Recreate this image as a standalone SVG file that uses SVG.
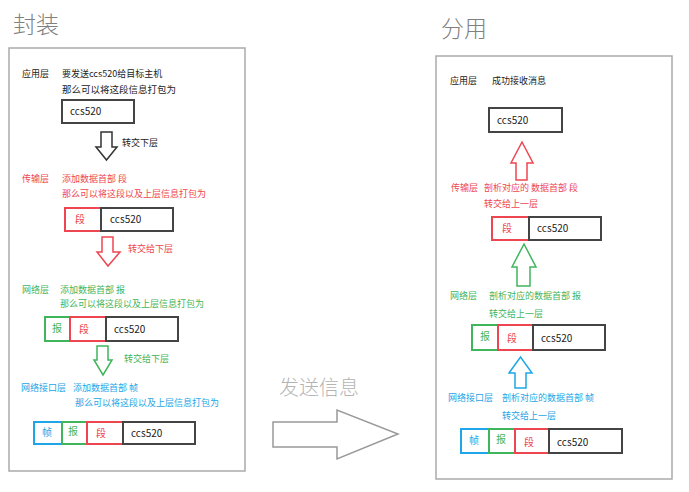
<svg xmlns="http://www.w3.org/2000/svg" width="689" height="492" viewBox="0 0 689 492">
<style>
text{font-family:"Noto Sans CJK SC","Noto Sans",sans-serif;font-size:9px}
.title{font-size:23px;fill:#808080;font-weight:300}
.panel{fill:#fff;stroke:#aaa;stroke-width:1.5}
.k{fill:#222}.r{fill:#ee4650}.g{fill:#3fb55c}.b{fill:#1ea6e6}
.bx{fill:#fff;stroke-width:2}
.bk{stroke:#444}.br{stroke:#ee4650}.bg{stroke:#3fb55c}.bb{stroke:#1ea6e6}
.in{font-size:10px}
.arr{fill:#fff;stroke-width:1.5}
</style>
<rect width="689" height="492" fill="#fff"/>
<g id="left-panel">
<text class="title" x="13" y="33">封装</text>
<rect class="panel" x="9" y="48" width="236" height="423"/>
</g>
<g id="right-panel">
<text class="title" x="441" y="37">分用</text>
<rect class="panel" x="436" y="56" width="236" height="423"/>
</g>
<g id="send-label">
<text x="279" y="395" style="font-size:20px;fill:#b4b4b4;font-weight:300">发送信息</text>
</g>
<g id="l-app">
<text class="k" x="22" y="77">应用层</text>
<text class="k" x="62" y="77">要发送ccs520给目标主机</text>
<text class="k" x="62" y="93" style="font-size:9.5px">那么可以将这段信息打包为</text>
<rect class="bx bk" x="62" y="100" width="72" height="23"/>
<text class="k in" x="70" y="115">ccs520</text>
</g>
<g id="l-trans">
<text class="r" x="22" y="182">传输层</text>
<text class="r" x="62" y="182">添加数据首部 段</text>
<text class="r" x="62" y="197">那么可以将这段以及上层信息打包为</text>
<rect class="bx br" x="65" y="208" width="36" height="23"/>
<rect class="bx bk" x="101" y="208" width="72" height="23"/>
<text class="r in" x="75" y="223">段</text>
<text class="k in" x="110" y="223">ccs520</text>
</g>
<g id="l-net">
<text class="g" x="22" y="293">网络层</text>
<text class="g" x="60" y="293">添加数据首部 报</text>
<text class="g" x="60" y="307">那么可以将这段以及上层信息打包为</text>
<rect class="bx bg" x="45" y="317" width="25" height="24"/>
<rect class="bx br" x="70" y="317" width="36" height="24"/>
<rect class="bx bk" x="106" y="317" width="72" height="24"/>
<text class="g in" x="52" y="332">报</text>
<text class="r in" x="79" y="333">段</text>
<text class="k in" x="114" y="333">ccs520</text>
</g>
<g id="l-link">
<text class="b" x="21" y="391">网络接口层</text>
<text class="b" x="73" y="391">添加数据首部 帧</text>
<text class="b" x="75" y="406">那么可以将这段以及上层信息打包为</text>
<rect class="bx bb" x="34" y="422" width="28" height="22"/>
<rect class="bx bg" x="62" y="422" width="25" height="22"/>
<rect class="bx br" x="87" y="422" width="36" height="22"/>
<rect class="bx bk" x="123" y="422" width="72" height="22"/>
<text class="b in" x="42" y="436">帧</text>
<text class="g in" x="68" y="435">报</text>
<text class="r in" x="96" y="437">段</text>
<text class="k in" x="131" y="437">ccs520</text>
</g>
<g id="r-app">
<text class="k" x="450" y="84">应用层</text>
<text class="k" x="492" y="84">成功接收消息</text>
<rect class="bx bk" x="489" y="108" width="73" height="24"/>
<text class="k in" x="497" y="124">ccs520</text>
</g>
<g id="r-trans">
<text class="r" x="451" y="191">传输层</text>
<text class="r" x="484" y="191">剖析对应的 数据首部 段</text>
<text class="r" x="484" y="207">转交给上一层</text>
<rect class="bx br" x="492" y="217" width="37" height="23"/>
<rect class="bx bk" x="529" y="217" width="72" height="23"/>
<text class="r in" x="502" y="232">段</text>
<text class="k in" x="537" y="232">ccs520</text>
</g>
<g id="r-net">
<text class="g" x="450" y="299">网络层</text>
<text class="g" x="489" y="299">剖析对应的数据首部 报</text>
<text class="g" x="489" y="317">转交给上一层</text>
<rect class="bx bg" x="472" y="325" width="26" height="25"/>
<rect class="bx br" x="498" y="325" width="35" height="25"/>
<rect class="bx bk" x="533" y="325" width="72" height="25"/>
<text class="g in" x="480" y="340">报</text>
<text class="r in" x="507" y="342">段</text>
<text class="k in" x="541" y="342">ccs520</text>
</g>
<g id="r-link">
<text class="b" x="448" y="401">网络接口层</text>
<text class="b" x="502" y="401">剖析对应的数据首部 帧</text>
<text class="b" x="502" y="419">转交给上一层</text>
<rect class="bx bb" x="461" y="429" width="28" height="24"/>
<rect class="bx bg" x="489" y="429" width="26" height="24"/>
<rect class="bx br" x="515" y="429" width="34" height="24"/>
<rect class="bx bk" x="549" y="429" width="73" height="24"/>
<text class="b in" x="469" y="444">帧</text>
<text class="g in" x="496" y="443">报</text>
<text class="r in" x="524" y="446">段</text>
<text class="k in" x="557" y="446">ccs520</text>
</g>
<g id="connectors">
<polygon class="arr" stroke="#333" points="101,132 112,132 112,147 117,147 106.5,160 96,147 101,147"/>
<text class="k" x="122" y="146">转交下层</text>
<polygon class="arr" stroke="#ee4650" points="102,237 113,237 113,252 120,252 108,266 97,252 102,252"/>
<text class="r" x="128" y="252">转交给下层</text>
<polygon class="arr" stroke="#3fb55c" points="97,346 108,346 108,360 112,360 103,375 94,360 97,360"/>
<text class="g" x="124" y="362">转交给下层</text>
<polygon class="arr" stroke="#ee4650" points="516,180 527,180 527,163 533,163 522,142 511,163 516,163"/>
<polygon class="arr" stroke="#3fb55c" points="517,286 530,286 530,267 536,267 524,244 512,267 517,267"/>
<polygon class="arr" stroke="#1ea6e6" points="515,388 526,388 526,373 532,373 520.5,357 509,373 515,373"/>
<polygon class="arr" stroke="#999" points="273,422 337,422 337,410 398,434 337,459 337,447 273,447"/>
</g>
</svg>
